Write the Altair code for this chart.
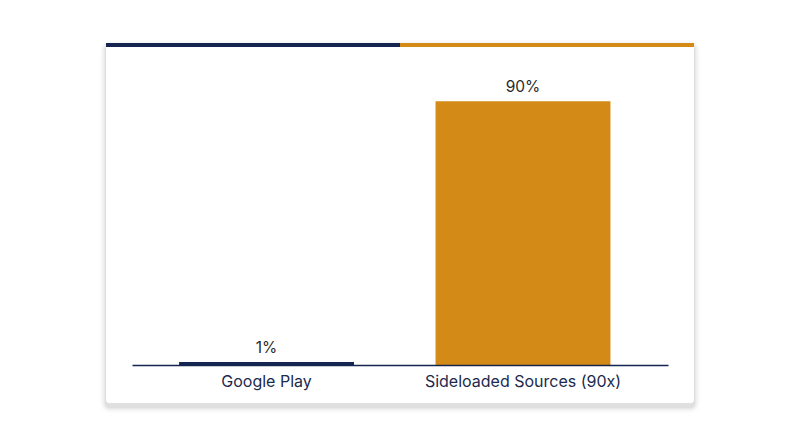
import altair as alt
import pandas as pd

categories = ["Google Play", "Sideloaded Sources (90x)"]
values = [1, 90]
labels = ["1%", "90%"]
colors = ["#14254f", "#d38a16"]

df = pd.DataFrame({"source": categories, "value": values, "label": labels, "color": colors})
one = pd.DataFrame({"k": [0]})

NAVY = "#14254f"
ORANGE = "#d38a16"

x_enc = alt.X("source:N", sort=categories,
              scale=alt.Scale(paddingInner=0.318, paddingOuter=0.204, align=0.45),
              axis=alt.Axis(title=None, labelAngle=0, ticks=False, grid=False,
                            domainColor=NAVY, domainWidth=1.5, zindex=1,
                            labelFont="Inter", labelFontSize=16, labelColor="#1b2a4e",
                            labelPadding=8, labelLimit=400))
y_enc = alt.Y("value:Q", scale=alt.Scale(domain=[0, 100], nice=False), axis=None)

# card shadow layers (decorative)
shadows = []
for i, op in enumerate([0.035, 0.028, 0.022, 0.016, 0.011, 0.007, 0.004]):
    d = i + 1
    shadows.append(
        alt.Chart(one).mark_rect(fill="black", opacity=op, cornerRadius=4 + d).encode(
            x=alt.value(-26 - d), x2=alt.value(562 + d),
            y=alt.value(-29 - d + 3), y2=alt.value(331 + d + 4)
        )
    )
card = alt.Chart(one).mark_rect(fill="white", cornerRadius=3).encode(
    x=alt.value(-26), x2=alt.value(562), y=alt.value(-29), y2=alt.value(331)
)
top_left = alt.Chart(one).mark_rect(fill=NAVY).encode(
    x=alt.value(-26), x2=alt.value(268), y=alt.value(-29), y2=alt.value(-25)
)
top_right = alt.Chart(one).mark_rect(fill=ORANGE).encode(
    x=alt.value(268), x2=alt.value(562), y=alt.value(-29), y2=alt.value(-25)
)

bars = alt.Chart(df).mark_bar().encode(
    x=x_enc, y=y_enc,
    color=alt.Color("color:N", scale=None, legend=None)
)
text = alt.Chart(df).mark_text(baseline="bottom", dy=-6, font="Inter", fontSize=15.5,
                               color="#2b2b2b").encode(
    x=alt.X("source:N", sort=categories), y="value:Q", text="label:N"
)

chart = alt.layer(*shadows, card, top_left, top_right, bars, text).properties(
    width=536, height=293,
    autosize=alt.AutoSizeParams(type="none"),
    padding={"left": 124, "top": 64, "right": 120, "bottom": 70},
    background="white",
).configure_view(stroke=None)

chart.save("out.html", embed_options={"renderer": "svg", "actions": False})
